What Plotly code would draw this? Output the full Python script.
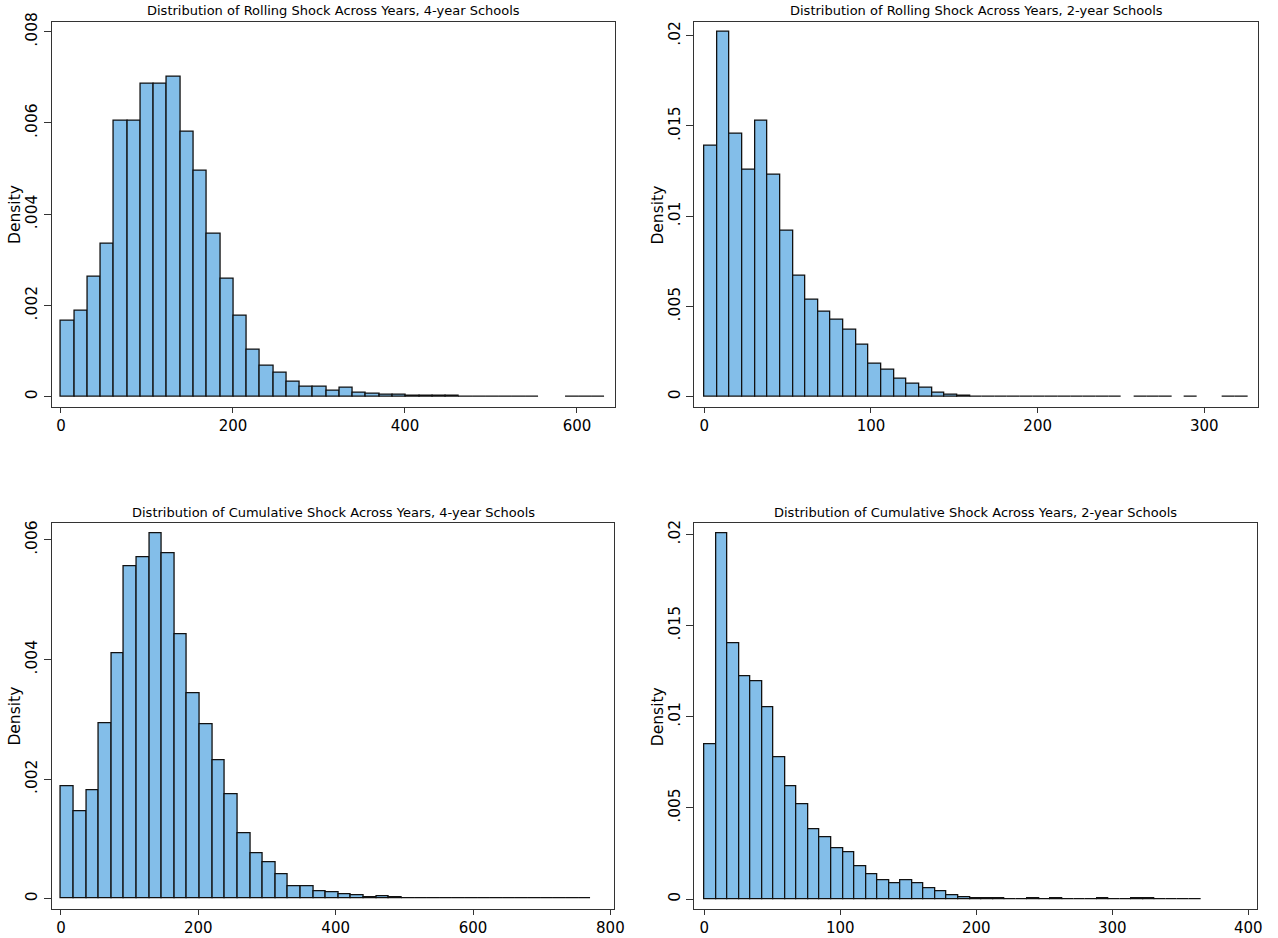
import plotly.graph_objects as go

# ---------------- data ----------------
titles = [
    "Distribution of Rolling Shock Across Years, 4-year Schools",
    "Distribution of Rolling Shock Across Years, 2-year Schools",
    "Distribution of Cumulative Shock Across Years, 4-year Schools",
    "Distribution of Cumulative Shock Across Years, 2-year Schools",
]

# bin layout of each histogram: first edge and bin width
roll4_start, roll4_width = 0.0, 15.43
roll2_start, roll2_width = 0.0, 7.586
cum4_start, cum4_width = 0.0, 18.37
cum2_start, cum2_width = 0.0, 8.49

# densities per bin (None = empty bin)
roll4_density = [
    0.00167, 0.00189, 0.00262, 0.00336, 0.00606, 0.00606, 0.00686, 0.00686,
    0.00701, 0.00580, 0.00496, 0.00357, 0.00259, 0.00178, 0.00102, 0.00068,
    0.00052, 0.00033, 0.00023, 0.00022, 0.00013, 0.00019, 0.00008, 0.00007,
    0.00004, 0.00004, 0.00003, 0.00002, 0.00002, 0.00002, 0.00001, 0.00001,
    0.00001, 0.00001, 0.00001, 0.00001, None, None, 0.00001, 0.00001, 0.00001,
]
roll2_density = [
    0.01393, 0.02022, 0.01457, 0.01258, 0.01529, 0.01232, 0.00920, 0.00669,
    0.00537, 0.00471, 0.00427, 0.00371, 0.00286, 0.00185, 0.00148, 0.00100,
    0.00074, 0.00050, 0.00021, 0.00010, 0.00005, 0.00002, 0.00002, 0.00002,
    0.00001, 0.00001, 0.00001, 0.00001, 0.00001, 0.00001, 0.00001, 0.00001,
    0.00001, None, 0.00001, 0.00001, 0.00001, None, 0.00001, None, None,
    0.00001, 0.00001,
]
cum4_density = [
    0.00188, 0.00147, 0.00182, 0.00293, 0.00410, 0.00555, 0.00571, 0.00611,
    0.00577, 0.00442, 0.00343, 0.00291, 0.00231, 0.00175, 0.00109, 0.00076,
    0.00061, 0.00040, 0.00021, 0.00020, 0.00012, 0.00011, 0.00007, 0.00005,
    0.00003, 0.00004, 0.00002, 0.00001, 0.000015, 0.00001, 0.00001, 0.000003,
    0.000003, 0.00001, 0.000003, 0.00001, 0.00001, 0.000003, 0.00001, 0.000003,
    0.000003, 0.000003,
]
cum2_density = [
    0.00849, 0.02004, 0.01405, 0.01219, 0.01195, 0.01052, 0.00776, 0.00620,
    0.00520, 0.00384, 0.00340, 0.00278, 0.00254, 0.00181, 0.00137, 0.00101,
    0.00084, 0.00104, 0.00086, 0.00059, 0.00044, 0.00018, 0.00007, 0.00003,
    0.000015, 0.000015, 0.00001, 0.00001, 0.000015, 0.00001, 0.000015, 0.00001,
    0.00001, 0.00001, 0.000015, 0.00001, 0.00001, 0.000015, 0.000015, 0.00001,
    0.00001, 0.00001, 0.00001,
]

x_ticks = [
    [0, 200, 400, 600],
    [0, 100, 200, 300],
    [0, 200, 400, 600, 800],
    [0, 100, 200, 300, 400],
]
y_ticks = [
    [0, 0.002, 0.004, 0.006, 0.008],
    [0, 0.005, 0.01, 0.015, 0.02],
    [0, 0.002, 0.004, 0.006],
    [0, 0.005, 0.01, 0.015, 0.02],
]
y_ticktext = [
    ["0", ".002", ".004", ".006", ".008"],
    ["0", ".005", ".01", ".015", ".02"],
    ["0", ".002", ".004", ".006"],
    ["0", ".005", ".01", ".015", ".02"],
]

# ---------------- styling / layout ----------------
W, H = 1278, 938
FONT = "DejaVu Sans"
BAR_FILL = "#83BEE9"
FRAME = "#333333"

# plot boxes in pixels: (left, right, top, bottom)
boxes = [
    (51.7, 615.0, 21.7, 406.7),
    (694.3, 1258.0, 21.7, 406.7),
    (51.7, 614.3, 523.3, 909.3),
    (694.3, 1257.3, 523.3, 909.3),
]
x_ranges = [(-10.8, 644.2), (-6.0, 332.2), (-13.5, 805.7), (-7.35, 406.6)]
y_ranges = [(-0.000219, 0.008219), (-0.000554, 0.020776),
            (-0.000177, 0.006277), (-0.000565, 0.02061)]

series = [
    (roll4_start, roll4_width, roll4_density),
    (roll2_start, roll2_width, roll2_density),
    (cum4_start, cum4_width, cum4_density),
    (cum2_start, cum2_width, cum2_density),
]

fig = go.Figure()
annotations = []
for i, (start, width, dens) in enumerate(series):
    ax = "" if i == 0 else str(i + 1)
    centers = [start + (k + 0.5) * width for k in range(len(dens))]
    fig.add_trace(go.Bar(
        x=centers, y=dens, width=width,
        marker=dict(color=BAR_FILL, line=dict(color="#111111", width=1.3)),
        xaxis="x" + ax, yaxis="y" + ax, showlegend=False,
        hovertemplate="%{x:.1f}: %{y:.5f}<extra></extra>",
    ))
    l, r, t, b = boxes[i]
    common = dict(showgrid=False, zeroline=False, showline=True, mirror=True,
                  automargin=False,
                  linecolor=FRAME, linewidth=1.3, ticks="outside",
                  tickwidth=1.2, tickcolor=FRAME)
    fig.update_layout(**{
        "xaxis" + ax: dict(domain=[l / W, r / W], range=list(x_ranges[i]),
                           tickmode="array", tickvals=x_ticks[i], ticklen=5,
                           tickfont=dict(family=FONT, size=15, color="#000000"),
                           anchor="y" + ax, **common),
        "yaxis" + ax: dict(domain=[1 - b / H, 1 - t / H], range=list(y_ranges[i]),
                           tickmode="array", tickvals=y_ticks[i], ticklen=7,
                           ticktext=y_ticktext[i], tickangle=-90,
                           tickfont=dict(family=FONT, size=15.5, color="#000000"),
                           anchor="x" + ax, **common),
    })
    annotations.append(dict(
        text=titles[i], xref="paper", yref="paper",
        x=(l + r) / 2 / W, y=1 - (t - 11) / H, xanchor="center", yanchor="middle",
        showarrow=False, font=dict(family=FONT, size=13, color="#000000"),
    ))
    annotations.append(dict(
        text="Density", xref="paper", yref="paper", textangle=-90,
        x=(l - 36.7) / W, y=1 - (t + 193.3) / H, xanchor="center", yanchor="middle",
        showarrow=False, font=dict(family=FONT, size=15.5, color="#000000"),
    ))

fig.update_layout(
    width=W, height=H, margin=dict(l=0, r=0, t=0, b=0),
    paper_bgcolor="white", plot_bgcolor="white", bargap=0,
    font=dict(family=FONT, color="#000000"),
    annotations=annotations,
)

fig.write_html("out.html", config={"displayModeBar": False},
               post_script="document.body.style.margin='0';")
